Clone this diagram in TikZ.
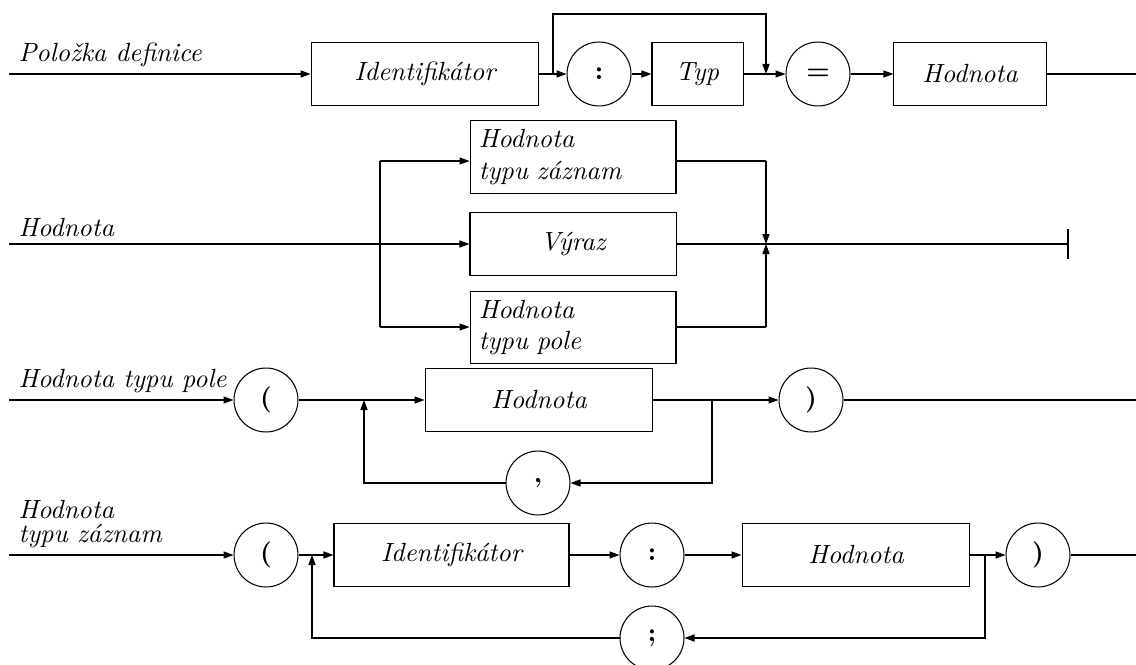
\documentclass[tikz,border=0pt]{standalone}
\usepackage{fontspec}
\usetikzlibrary{arrows.meta,calc}
\begin{document}
\begin{tikzpicture}[x=0.38pt,y=-0.38pt,
  box/.style={draw, rectangle, font=\itshape, minimum height=23.6pt},
  twoline/.style={box, text width=71.6pt, align=left},
  term/.style={draw, circle, minimum size=24.3pt, inner sep=0pt, font=\bfseries},
  lbl/.style={font=\itshape, inner sep=0pt, anchor=base west},
  flow/.style={-{Triangle[length=3.8pt,width=2.7pt]}}
]
\useasboundingbox (0,0) rectangle (1136,664);

% --- Polozka definice ---
\node[lbl] (l1) at (18,62) {Položka definice};
\coordinate (s1) at (9,74);
\node[box, minimum width=86.6pt] (id1) at (425,74) {Identifikátor};
\node[term] (c1) at (599,74) {:};
\node[box, minimum width=34.6pt] (typ) at (697.5,74) {Typ};
\node[term] (eq) at (818,74) {=};
\node[box, minimum width=57.8pt] (hod1) at (970,74) {Hodnota};
\coordinate (j1) at (553,74);
\coordinate (m1) at (766,74);
\coordinate (e1) at (1136,74);
\draw[flow] (s1) -- (id1);
\draw (id1) -- (j1);
\draw[flow] (j1) -- (c1);
\draw[flow] (c1) -- (typ);
\draw (typ) -- (m1);
\draw[flow] (j1) -- ++(0,-60) -| (m1);
\draw[flow] (m1) -- (eq);
\draw[flow] (eq) -- (hod1);
\draw (hod1) -- (e1);

% --- Hodnota ---
\node[lbl] (l2) at (18,236) {Hodnota};
\coordinate (s2) at (9,244);
\node[twoline, minimum height=25.8pt] (rec) at (573,157) {Hodnota\\typu záznam};
\node[box, minimum width=78.3pt] (expr) at (573,244) {Výraz};
\node[twoline, minimum height=23.2pt] (arr) at (573,327.5) {Hodnota\\typu pole};
\coordinate (b2) at (380,244);
\coordinate (r2) at (380,161);
\coordinate (p2) at (380,327);
\coordinate (mr) at (766,161);
\coordinate (mp) at (766,327);
\coordinate (m2) at (766,244);
\coordinate (e2) at (1068,244);
\draw[flow] (s2) -- (expr);
\draw (r2) -- (p2);
\draw[flow] (r2) -- (rec.west |- r2);
\draw[flow] (p2) -- (arr.west |- p2);
\draw (rec.east |- r2) -- (mr);
\draw[flow] (mr) -- (m2);
\draw (arr.east |- p2) -- (mp);
\draw[flow] (mp) -- (m2);
\draw (expr) -- (e2);
\draw ($(e2)+(0,-15)$) -- ($(e2)+(0,15)$);

% --- Hodnota typu pole ---
\node[lbl] (l3) at (18,387) {Hodnota typu pole};
\coordinate (s3) at (9,400);
\node[term] (lp3) at (266,400) {(};
\node[box, minimum width=86.6pt] (hod3) at (539,400) {Hodnota};
\node[term] (rp3) at (811,400) {)};
\node[term] (cm3) at (538,483) {,};
\coordinate (j3) at (364,400);
\coordinate (j3b) at (364,483);
\coordinate (t3) at (712,400);
\coordinate (t3b) at (712,483);
\coordinate (e3) at (1136,400);
\draw[flow] (s3) -- (lp3);
\draw (lp3) -- (j3);
\draw[flow] (j3) -- (hod3);
\draw (hod3) -- (t3);
\draw[flow] (t3) -- (rp3);
\draw[flow] (t3) -- (t3b) -- (cm3);
\draw[flow] (cm3) -- (j3b) -- (j3);
\draw (rp3) -- (e3);

% --- Hodnota typu zaznam ---
\node[font=\itshape, inner sep=0pt, anchor=north west, align=left] (l4) at (18,499.5) {Hodnota\\[-2.9pt]typu záznam};
\coordinate (s4) at (9,555);
\node[term] (lp4) at (266,555) {(};
\node[box, minimum width=89.3pt] (id4) at (451.5,555) {Identifikátor};
\node[term] (c4) at (652,555) {:};
\node[box, minimum width=86.6pt] (hod4) at (856,555) {Hodnota};
\node[term] (rp4) at (1038,555) {)};
\node[term] (sc4) at (652,638) {;};
\coordinate (j4) at (312,555);
\coordinate (j4b) at (312,638);
\coordinate (t4) at (985,555);
\coordinate (t4b) at (985,638);
\coordinate (e4) at (1136,555);
\draw[flow] (s4) -- (lp4);
\draw (lp4) -- (j4);
\draw[flow] (j4) -- (id4);
\draw[flow] (id4) -- (c4);
\draw[flow] (c4) -- (hod4);
\draw (hod4) -- (t4);
\draw[flow] (t4) -- (rp4);
\draw[flow] (t4) -- (t4b) -- (sc4);
\draw[flow] (sc4) -- (j4b) -- (j4);
\draw (rp4) -- (e4);
\end{tikzpicture}
\end{document}
